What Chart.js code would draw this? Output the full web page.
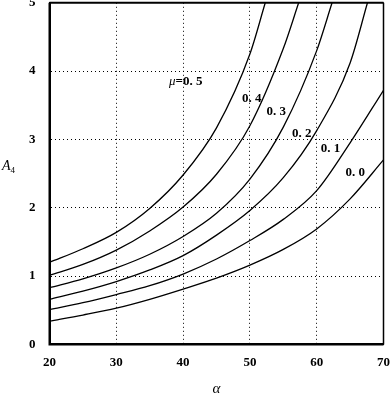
<!DOCTYPE html>
<html>
<head>
<meta charset="utf-8">
<script src="https://cdn.jsdelivr.net/npm/chart.js@4.4.1/dist/chart.umd.min.js"></script>
<style>
  html, body { margin: 0; padding: 0; background: #fff; overflow: hidden; }
  #wrap { width: 400px; height: 413px; margin-top: -19px; }
</style>
</head>
<body>
<div id="wrap"><canvas id="chartOne"></canvas></div>
<script>
// curve data: alpha (x) and A4 (y) for each mu
const muLabels = ['0. 5', '0. 4', '0. 3', '0. 2', '0. 1', '0. 0'];

const alpha05 = [20, 25, 30, 35, 40, 45, 50, 52.3];
const a05 = [1.20, 1.40, 1.64, 1.99, 2.48, 3.17, 4.25, 5.0];

const alpha04 = [20, 25, 30, 35, 40, 45, 50, 55, 57.3];
const a04 = [1.01, 1.17, 1.38, 1.66, 2.01, 2.49, 3.2, 4.33, 5.0];

const alpha03 = [20, 25, 30, 35, 40, 45, 50, 55, 60, 62.3];
const a03 = [0.83, 0.96, 1.12, 1.32, 1.58, 1.92, 2.42, 3.18, 4.3, 5.0];

const alpha02 = [20, 25, 30, 35, 40, 45, 50, 55, 60, 65, 67.6];
const a02 = [0.66, 0.78, 0.92, 1.09, 1.30, 1.60, 1.96, 2.44, 3.13, 4.12, 5.0];

const alpha01 = [20, 25, 30, 35, 40, 45, 50, 55, 60, 65, 70];
const a01 = [0.51, 0.61, 0.73, 0.86, 1.03, 1.25, 1.52, 1.83, 2.25, 2.95, 3.72];

const alpha00 = [20, 25, 30, 35, 40, 45, 50, 55, 60, 65, 70];
const a00 = [0.34, 0.43, 0.53, 0.66, 0.81, 0.97, 1.16, 1.39, 1.69, 2.13, 2.7];

// where each curve label sits (data coords, left edge of text)
const labelX = [37.9, 48.8, 52.5, 56.3, 60.6, 64.3];
const labelY = [3.85, 3.6, 3.41, 3.08, 2.87, 2.51];

const xTicks = [20, 30, 40, 50, 60, 70];
const yTicks = [0, 1, 2, 3, 4, 5];

const xs = [alpha05, alpha04, alpha03, alpha02, alpha01, alpha00];
const ys = [a05, a04, a03, a02, a01, a00];

const datasets = xs.map((xv, i) => ({
    label: muLabels[i],
    data: xv.map((x, j) => ({ x: x, y: ys[i][j] })),
    borderColor: '#000',
    borderWidth: 1.3,
    pointRadius: 0,
    fill: false,
    cubicInterpolationMode: 'monotone'
}));

const serif = '"Liberation Serif", "DejaVu Serif", serif';

const curveLabels = {
    id: 'curveLabels',
    afterDatasetsDraw(chart) {
        const ctx = chart.ctx;
        const sx = chart.scales.x, sy = chart.scales.y;
        ctx.save();
        ctx.fillStyle = '#000';
        ctx.textBaseline = 'middle';
        ctx.textAlign = 'left';
        muLabels.forEach((t, i) => {
            const px = sx.getPixelForValue(labelX[i]);
            const py = sy.getPixelForValue(labelY[i]);
            if (i === 0) {
                ctx.font = 'italic 13px ' + serif;
                ctx.fillText('\u03bc', px, py);
                const w = ctx.measureText('\u03bc').width;
                ctx.font = 'bold 13px ' + serif;
                ctx.fillText('=' + t, px + w, py);
            } else {
                ctx.font = 'bold 13px ' + serif;
                ctx.fillText(t, px, py);
            }
        });
        // y axis title A4, written horizontally
        const ty = (chart.chartArea.top + chart.chartArea.bottom) / 2 - 7;
        ctx.font = 'italic 14px ' + serif;
        ctx.fillText('A', 2, ty);
        const wa = ctx.measureText('A').width;
        ctx.font = '9px ' + serif;
        ctx.fillText('4', 2 + wa, ty + 4);
        ctx.restore();
    }
};

new Chart(document.getElementById('chartOne'), {
    type: 'line',
    data: { datasets: datasets },
    options: {
        responsive: true,
        maintainAspectRatio: false,
        animation: false,
        layout: { padding: { left: 15, right: 0, top: 0, bottom: -4 } },
        plugins: { legend: { display: false }, tooltip: { enabled: false } },
        scales: {
            x: {
                type: 'linear',
                min: 20, max: 70,
                afterBuildTicks: (axis) => { axis.ticks = xTicks.map(v => ({ value: v })); },
                border: { display: true, color: '#000', width: 2, dash: [1, 3] },
                grid: { color: '#000', lineWidth: 1, drawTicks: false },
                ticks: { color: '#000', padding: 10, font: { family: serif, size: 13, weight: 'bold' } },
                title: { display: true, text: '\u03b1', color: '#000', padding: { top: 0, bottom: 0 },
                    font: { family: serif, size: 15, style: 'italic' } }
            },
            y: {
                min: 0, max: 5,
                afterBuildTicks: (axis) => { axis.ticks = yTicks.map(v => ({ value: v })); },
                border: { display: true, color: '#000', width: 2, dash: [1, 3] },
                grid: { color: '#000', lineWidth: 1, drawTicks: false },
                ticks: { color: '#000', padding: 14, font: { family: serif, size: 13, weight: 'bold' } }
            }
        }
    },
    plugins: [curveLabels, {
        id: 'frame',
        afterDraw(chart) {
            const a = chart.chartArea, ctx = chart.ctx;
            ctx.save();
            ctx.strokeStyle = '#000';
            ctx.setLineDash([]);
            ctx.lineWidth = 2;
            ctx.beginPath();
            ctx.moveTo(a.left, a.top); ctx.lineTo(a.left, a.bottom); ctx.lineTo(a.right, a.bottom);
            ctx.moveTo(a.left, a.top); ctx.lineTo(a.right, a.top);
            ctx.stroke();
            ctx.lineWidth = 1.5;
            ctx.beginPath();
            ctx.moveTo(a.right, a.top); ctx.lineTo(a.right, a.bottom);
            ctx.stroke();
            ctx.restore();
        }
    }]
});
</script>
</body>
</html>
